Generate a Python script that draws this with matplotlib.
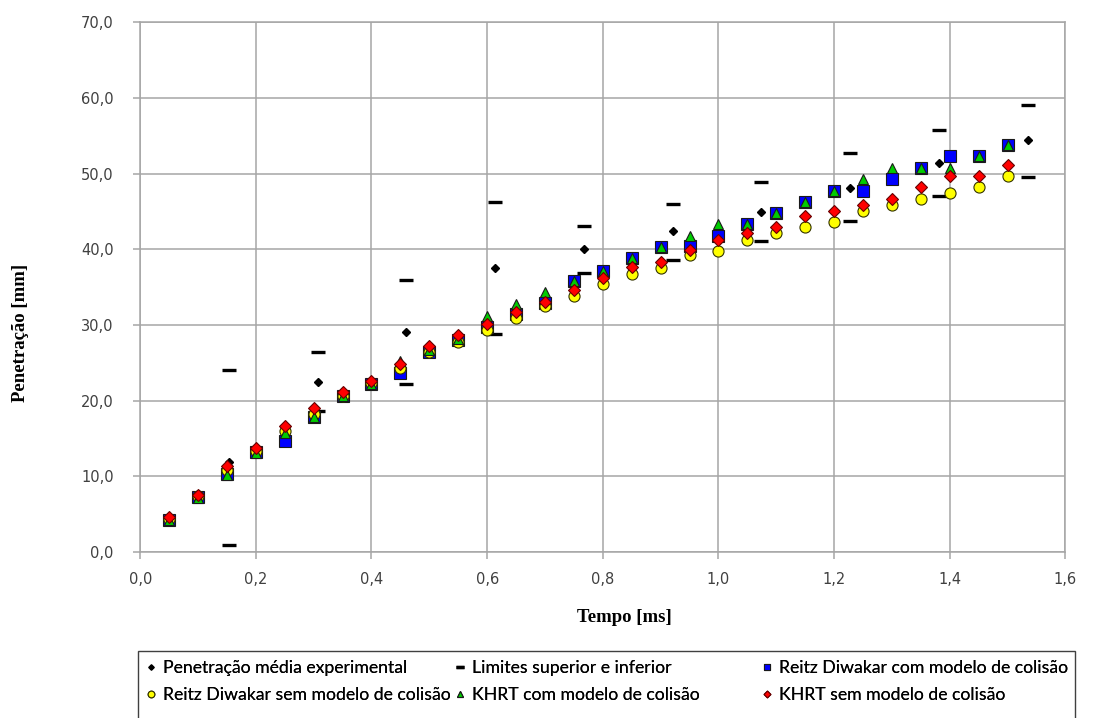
import matplotlib
matplotlib.use('Agg')
import matplotlib.pyplot as plt
from matplotlib.ticker import FuncFormatter, MultipleLocator
from matplotlib.patches import Rectangle

# tempos das simulacoes [ms]
t_sim = [0.05, 0.10, 0.15, 0.20, 0.25, 0.30, 0.35, 0.40, 0.45, 0.50,
         0.55, 0.60, 0.65, 0.70, 0.75, 0.80, 0.85, 0.90, 0.95, 1.00,
         1.05, 1.10, 1.15, 1.20, 1.25, 1.30, 1.35, 1.40, 1.45, 1.50]

reitz_com = [4.3, 7.3, 10.3, 13.2, 14.7, 17.9, 20.6, 22.2, 23.7, 26.5,
             28.0, 29.8, 31.4, 32.9, 35.8, 37.2, 38.9, 40.3, 40.4, 41.8,
             43.3, 44.8, 46.2, 47.7, 47.7, 49.3, 50.8, 52.3, 52.3, 53.8]
reitz_sem = [4.4, 7.4, 10.9, 13.4, 16.0, 18.2, 20.6, 22.3, 24.3, 26.5,
             27.8, 29.3, 30.9, 32.5, 33.9, 35.4, 36.8, 37.6, 39.2, 39.8,
             41.2, 42.1, 43.0, 43.6, 45.1, 45.9, 46.6, 47.4, 48.2, 49.7]
khrt_com = [4.2, 7.2, 10.2, 13.1, 15.8, 17.8, 20.6, 22.2, 25.3, 26.7,
            28.1, 31.2, 32.8, 34.3, 35.8, 37.2, 38.9, 40.3, 41.8, 43.3,
            43.3, 44.8, 46.2, 47.7, 49.3, 50.8, 50.8, 50.8, 52.3, 53.8]
khrt_sem = [4.6, 7.6, 11.4, 13.7, 16.7, 19.0, 21.1, 22.6, 24.9, 27.2,
            28.7, 30.1, 31.7, 33.1, 34.6, 36.2, 37.7, 38.3, 39.9, 41.3,
            42.1, 43.0, 44.4, 45.1, 45.9, 46.6, 48.2, 49.7, 49.7, 51.1]

# dados experimentais
t_exp = [0.153, 0.307, 0.460, 0.614, 0.767, 0.921, 1.074, 1.228, 1.381, 1.535]
exp_media = [11.9, 22.5, 29.1, 37.6, 40.0, 42.4, 45.0, 48.1, 51.4, 54.4]
exp_sup = [24.0, 26.5, 35.9, 46.3, 43.1, 46.0, 48.9, 52.7, 55.8, 59.1]
exp_inf = [0.9, 18.6, 22.2, 28.8, 36.9, 38.6, 41.1, 43.7, 47.0, 49.6]

fig = plt.figure(figsize=(11.04, 7.18), dpi=100)
ax = fig.add_axes([0.127, 0.231, 0.838, 0.738])

h_exp, = ax.plot(t_exp, exp_media, linestyle='none', marker='D', ms=4.3,
                 color='black', label='Penetração média experimental')
h_lim, = ax.plot(t_exp + t_exp, exp_sup + exp_inf, linestyle='none', marker='_',
                 ms=10.5, mew=2.4, color='black', label='Limites superior e inferior')
h_rc, = ax.plot(t_sim, reitz_com, linestyle='none', marker='s', ms=8,
                mfc='#0000ff', mec='#1a1a1a', mew=0.8,
                label='Reitz Diwakar com modelo de colisão')
h_rs, = ax.plot(t_sim, reitz_sem, linestyle='none', marker='o', ms=8,
                mfc='#ffff00', mec='#333300', mew=0.8,
                label='Reitz Diwakar sem modelo de colisão')
h_kc, = ax.plot(t_sim, khrt_com, linestyle='none', marker='^', ms=7.5,
                mfc='#00cc00', mec='#1a1a1a', mew=0.8,
                label='KHRT com modelo de colisão')
h_ks, = ax.plot(t_sim, khrt_sem, linestyle='none', marker='D', ms=5.8,
                mfc='#ff0000', mec='#660000', mew=0.8,
                label='KHRT sem modelo de colisão')

ax.set_xlim(0, 1.6)
ax.set_ylim(0, 70)
ax.xaxis.set_major_locator(MultipleLocator(0.2))
ax.yaxis.set_major_locator(MultipleLocator(10))
virgula = FuncFormatter(lambda v, p: ('%.1f' % v).replace('.', ','))
ax.xaxis.set_major_formatter(virgula)
ax.yaxis.set_major_formatter(virgula)
ax.grid(True, color='#a6a6a6', linewidth=1.1)
ax.set_axisbelow(True)
for s in ax.spines.values():
    s.set_color('#a6a6a6')
    s.set_linewidth(1.1)
ax.tick_params(axis='both', colors='#a6a6a6', length=5, width=1.1,
               labelcolor='#404040', labelsize=10.5)
ax.tick_params(axis='y', pad=14)
ax.tick_params(axis='x', pad=9)

ax.set_xlabel('Tempo [ms]', fontfamily='Liberation Serif', fontweight='bold',
              fontsize=13.5)
ax.set_ylabel('Penetração [mm]', fontfamily='Liberation Serif', fontweight='bold',
              fontsize=13.5)
ax.xaxis.set_label_coords(0.523, -0.108)
ax.yaxis.set_label_coords(-0.12, 0.413)

# moldura da legenda (cortada na borda inferior, como no original)
fig.patches.append(Rectangle((138 / 1104, -0.02), (1075 - 138) / 1104, 0.02 + 1 - 651 / 718,
                             transform=fig.transFigure, fill=False,
                             edgecolor='#404040', linewidth=1.0))

# tres colunas de largura igual, como no Excel
colunas = [[h_exp, h_rs], [h_lim, h_kc], [h_rc, h_ks]]
x_col = [146 / 1104, 455 / 1104, 762 / 1104]
for hs, xc in zip(colunas, x_col):
    lg = fig.legend(handles=hs, labels=[h.get_label() for h in hs],
                    loc='upper left', bbox_to_anchor=(xc, 1 - 660 / 718),
                    frameon=False, borderpad=0, borderaxespad=0,
                    handlelength=0.6, handletextpad=0.35, labelspacing=0.64,
                    prop={'family': 'Lato', 'size': 12.7}, markerscale=0.6)
    fig.add_artist(lg)

fig.savefig('out.png', dpi=100)
